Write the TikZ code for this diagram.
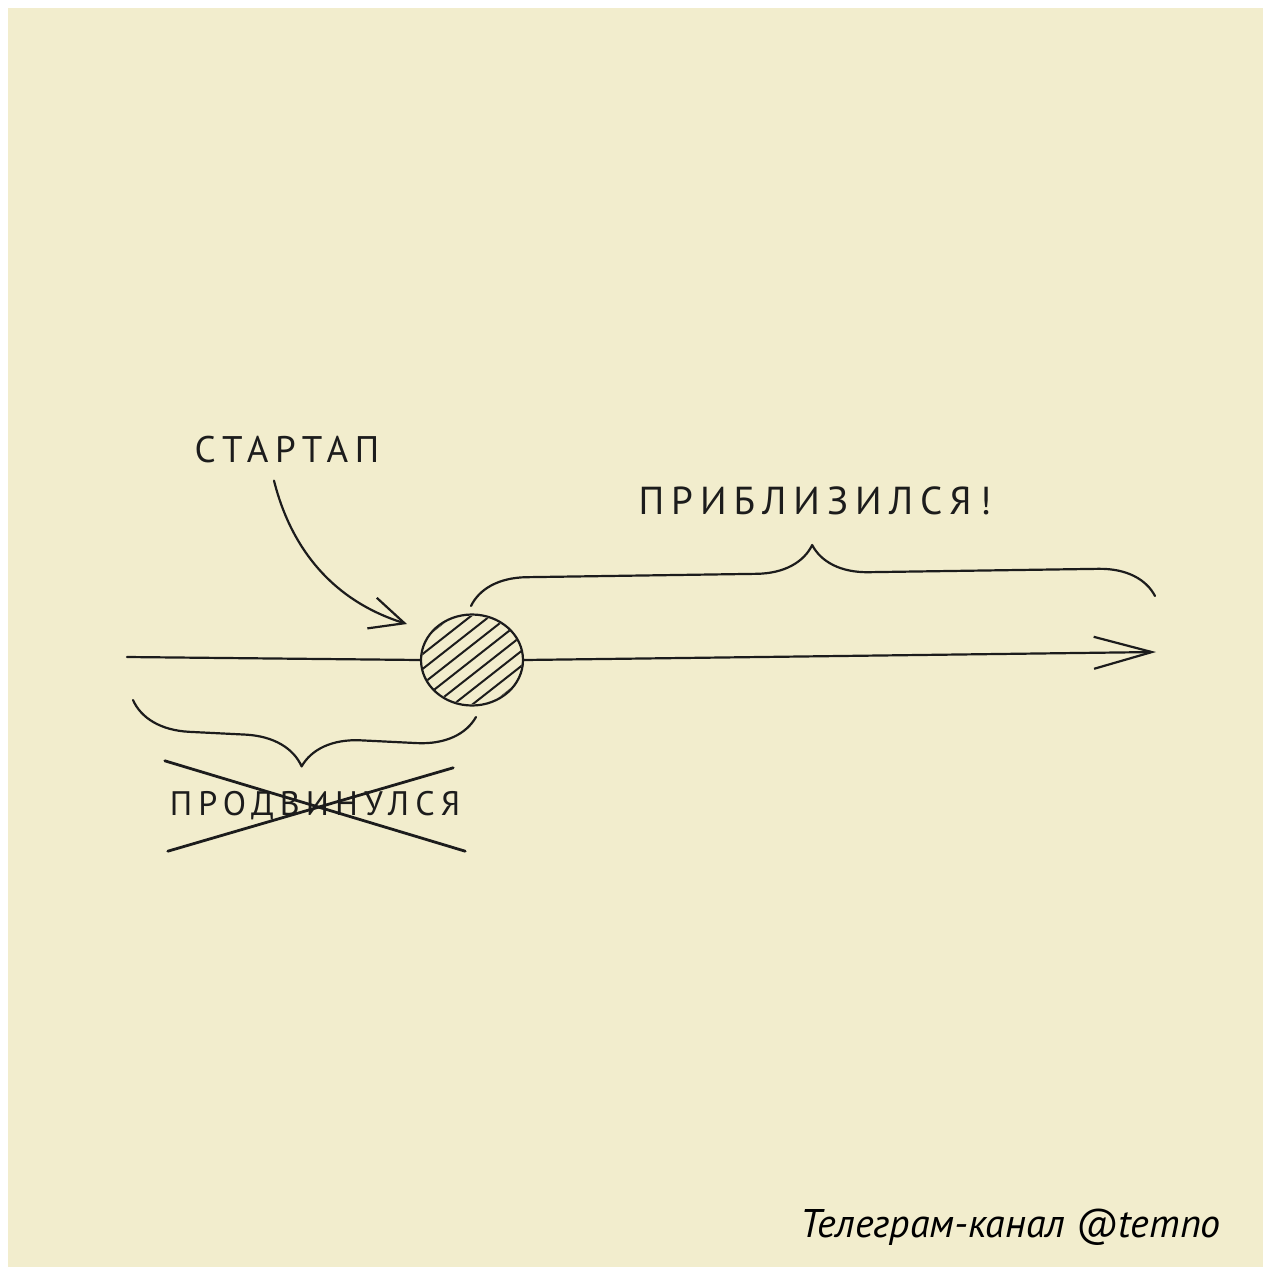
\documentclass[tikz,border=0pt]{standalone}
\usepackage{fontspec}
\setmainfont{PT Sans}
\newfontfamily\handfont[LetterSpace=18]{PT Sans}
\usetikzlibrary{arrows.meta,calc,positioning,decorations.pathreplacing,shapes.geometric}
\definecolor{paper}{RGB}{242,237,205}
\definecolor{ink}{RGB}{28,28,28}

\begin{document}
\begin{tikzpicture}[
  x=1pt, y=-1pt,
  hand/.style   = {font=\handfont\fontsize{#1}{#1}\selectfont,
                   text=ink, inner sep=0pt},
  pen/.style    = {draw=ink, line width=2.2pt, line cap=round, line join=round},
  arr/.style    = {pen, -{Straight Barb[length=34pt,width=32pt,line width=2.2pt]}},
  bigarr/.style = {pen, -{Straight Barb[length=58pt,width=32pt,line width=2.2pt]}},
  brcup/.style  = {pen, decorate, decoration={brace, amplitude=56pt}},
  brcdown/.style= {pen, decorate, decoration={brace, mirror, amplitude=58pt}},
]
% paper
\fill[white] (0,0) rectangle (1263,1267);
\fill[paper] (8,8) rectangle (1263,1267);
\useasboundingbox (0,0) rectangle (1263,1267);

% the startup dot
\node[ellipse, pen, minimum width=102pt, minimum height=91pt, inner sep=0pt]
    (point) at (472,660) {};
\begin{scope}
  \clip (472,660) ellipse [x radius=50, y radius=44];
  \foreach \k in {-4,...,4}
    \draw[pen, line width=2pt] ($(point.center)+(\k*19-70,55)$) -- ++(140,-110);
\end{scope}

% labels
\node[hand=37] (startap) at (287,450) {СТАРТАП};
\node[hand=39] (approach) at (815,501) {ПРИБЛИЗИЛСЯ\hspace{8pt}!};
\node[hand=34, minimum width=300pt, minimum height=90pt] (moved) at (315,806)
    {ПРОДВИНУЛСЯ};
\node[font=\itshape\fontsize{40}{40}\selectfont, text=black, anchor=base east,
      inner sep=0pt] (channel) at (1221,1237) {Телеграм-канал @temno};

% axis
\coordinate (lineL) at (127,657);
\coordinate (lineR) at (1156,652);
\draw[pen] (lineL) -- (point.west);
\draw[bigarr] (point.east) -- (lineR);

% pointer to the dot
\coordinate (hit) at (407,624);
\draw[arr] ($(startap.south)+(-13,17)$) .. controls (290,545) and (330,600) .. (hit);

% braces
\coordinate (upL) at (471,606);
\coordinate (upR) at (1155,596);
\draw[brcup] (upL) -- (upR);
\coordinate (loL) at (133,700);
\coordinate (loR) at (476,717);
\draw[brcdown] (loL) -- (loR);

% crossed out
\draw[pen, line width=2.8pt] (moved.north west) -- (moved.south east);
\draw[pen, line width=2.8pt] ($(moved.south west)+(3,0)$) -- ($(moved.north east)+(-12,7)$);
\end{tikzpicture}
\end{document}
